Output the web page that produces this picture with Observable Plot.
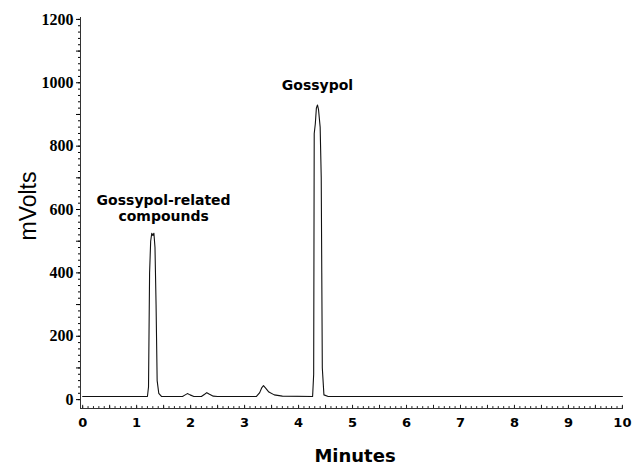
<!DOCTYPE html>
<html>
<head>
<meta charset="utf-8">
<script src="https://cdn.jsdelivr.net/npm/d3@7"></script>
<script src="https://cdn.jsdelivr.net/npm/@observablehq/plot@0.6"></script>
<style>
  html, body { margin: 0; padding: 0; background: #fff; }
  .ytl text { font-weight: bold; }
</style>
</head>
<body>
<div id="chart"></div>
<script>
// Chromatogram trace (minutes, mV)
const minutes = [0, 1.20, 1.22, 1.24, 1.26, 1.28, 1.30, 1.32, 1.34, 1.36, 1.38, 1.41, 1.46, 1.85, 1.90, 1.94, 1.99, 2.06, 2.20, 2.26, 2.30, 2.35, 2.42, 2.50, 3.22, 3.28, 3.32, 3.35, 3.39, 3.45, 3.55, 3.70, 4.26, 4.28, 4.29, 4.31, 4.33, 4.35, 4.37, 4.40, 4.42, 4.43, 4.44, 4.47, 4.55, 10];
const mvolts  = [10, 10, 40, 400, 500, 525, 518, 525, 480, 300, 60, 20, 10, 10, 15, 19, 15, 10, 10, 17, 22, 17, 11, 10, 10, 22, 38, 44, 36, 24, 15, 11, 10, 80, 840, 870, 920, 930, 915, 860, 700, 400, 100, 15, 10, 10];

const xTicks = [0, 1, 2, 3, 4, 5, 6, 7, 8, 9, 10];
const yTicks = [0, 200, 400, 600, 800, 1000, 1200];

const labels = [
  {t: 1.50, v: 628, text: "Gossypol-related"},
  {t: 1.50, v: 578, text: "compounds"},
  {t: 4.35, v: 990, text: "Gossypol"}
];

const data = minutes.map((t, i) => ({t, v: mvolts[i]}));
const xMinor = d3.range(0, 10.001, 0.1).map(d => +d.toFixed(2));
const xMid = d3.range(0, 10.001, 0.5);
const yMinor = d3.range(0, 1200.1, 20);
const yMid = d3.range(0, 1200.1, 100);

const X0 = -0.04, Y0 = -28;

const chart = Plot.plot({
  width: 633,
  height: 465,
  marginLeft: 80,
  marginRight: 10,
  marginTop: 17,
  marginBottom: 57,
  style: {background: "#fff", color: "#000", overflow: "visible"},
  x: {domain: [X0, 10.02]},
  y: {domain: [Y0, 1206]},
  marks: [
    // y axis: labels, major and minor ticks
    Plot.axisY({ticks: yTicks, tickSize: 0, tickPadding: 7, label: null, tickFormat: "d",
      className: "ytl", fontFamily: "Liberation Serif", fontWeight: "bold", fontSize: 16}),
    Plot.axisY({ticks: yMid, tickSize: 4, text: null, label: null}),
    Plot.axisY({ticks: yMinor, tickSize: 2, text: null, label: null}),
    // x axis labels
    Plot.axisX({ticks: xTicks, tickSize: 0, tickPadding: 9, label: null,
      fontFamily: "DejaVu Sans", fontWeight: "bold", fontSize: 13}),
    // inward x ticks
    Plot.ruleX(xMinor, {y1: Y0, y2: Y0 + 6, stroke: "#222", strokeWidth: 1}),
    Plot.ruleX(xMid, {y1: Y0, y2: Y0 + 10, stroke: "#222", strokeWidth: 1}),
    // axis lines
    Plot.ruleX([X0], {stroke: "#333", strokeWidth: 1}),
    Plot.ruleY([Y0], {stroke: "#333", strokeWidth: 1}),
    // trace
    Plot.line(data, {x: "t", y: "v", stroke: "#111", strokeWidth: 1.1}),
    // annotations
    Plot.text(labels, {x: "t", y: "v", text: "text", fontFamily: "DejaVu Sans",
      fontWeight: "bold", fontSize: 14, fill: "#000"}),
    // axis titles
    Plot.text(["mVolts"], {frameAnchor: "left", textAnchor: "middle", dx: -52, dy: -7, rotate: -90,
      fontFamily: "Liberation Sans", fontSize: 23, fill: "#000"}),
    Plot.text(["Minutes"], {frameAnchor: "bottom", dx: 3, dy: 53,
      fontFamily: "DejaVu Sans", fontWeight: "bold", fontSize: 18, fill: "#000"})
  ]
});
document.getElementById("chart").appendChild(chart);
</script>
</body>
</html>
